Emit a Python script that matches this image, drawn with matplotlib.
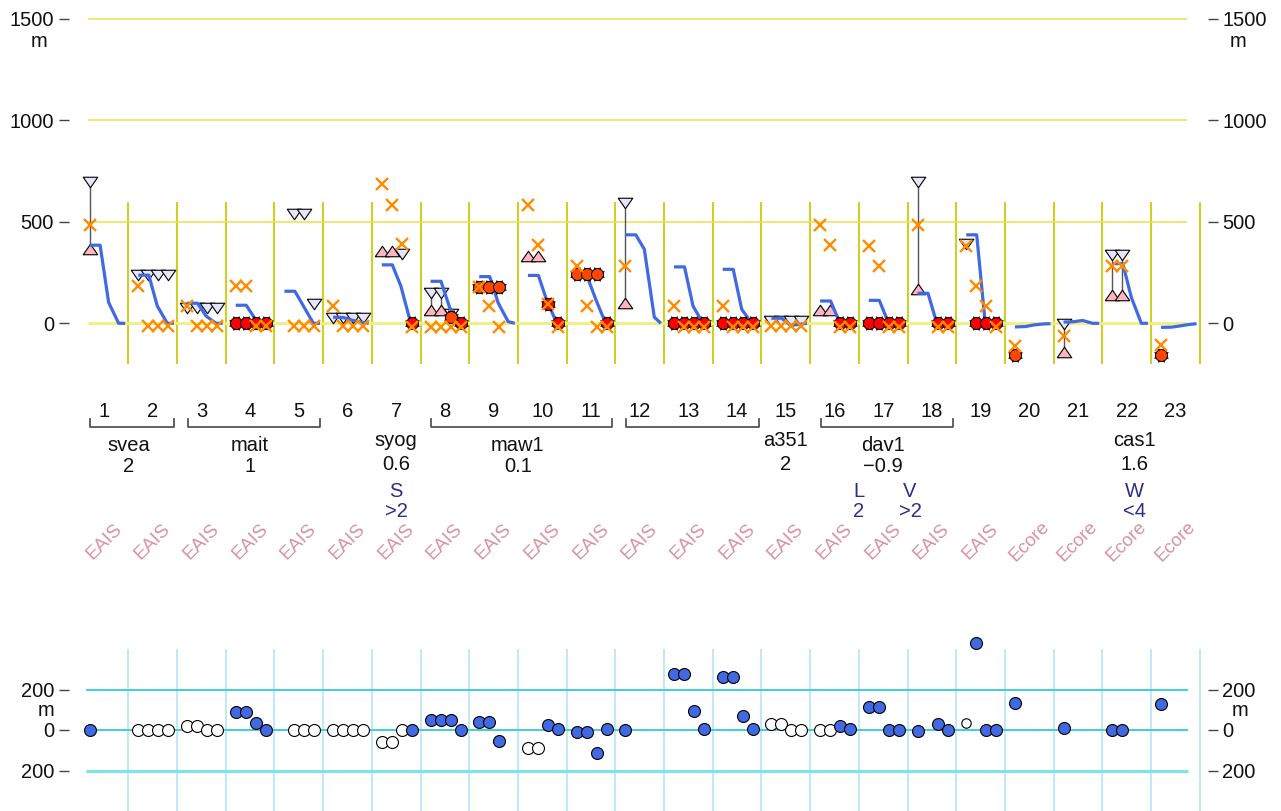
import numpy as np
import matplotlib
matplotlib.use("Agg")
import matplotlib.pyplot as plt
from matplotlib.transforms import blended_transform_factory, ScaledTranslation

plt.rcParams['font.family'] = ['Liberation Sans', 'DejaVu Sans']

N = None
# ---------------- data ----------------
columns = list(range(1, 24))
regions = ["EAIS"] * 19 + ["Ecore"] * 4

# blue profile line, 5 points per column (m)
blue_profile = [
    [385, 385, 103, 0, 0], [237, 237, 85, 0, 0], [99, 99, 36, 0, 0],
    [89, 89, 25, 0, 0], [158, 158, 85, 0, 0], [30, 28, 15, 5, 0],
    [288, 288, 184, 0, 0], [207, 207, 79, 0, 0], [230, 230, 100, 8, 0],
    [236, 236, 110, 0, 0], [232, 232, 120, 0, 0], [436, 436, 365, 30, 0],
    [278, 278, 85, 0, 0], [266, 266, 69, 0, 0], [25, 25, -10, -5, 0],
    [110, 110, 10, 0, 0], [113, 113, 10, 0, 0], [148, 148, 5, 0, 0],
    [436, 436, 0, 0, 0], [-18, -16, -8, -3, -2], [6, 8, 14, 0, 0],
    [294, 294, 128, 0, 0], [-20, -19, -13, -5, -2],
]

# upper limits (down triangles), 4 slots per column
upper = [
    [695, N, N, N], [240, 240, 240, 240], [75, 75, 75, 75], [N, N, N, N],
    [N, 540, 540, 94], [25, 25, 25, 25], [N, N, 342, N], [150, 150, 45, N],
    [N, N, N, N], [N, N, N, N], [N, N, N, N], [595, N, N, N],
    [N, N, N, N], [N, N, N, N], [10, 10, 10, 10], [N, N, N, N],
    [N, N, N, N], [694, N, N, N], [390, N, N, N], [N, N, N, N],
    [-5, N, N, N], [337, 337, N, N], [N, N, N, N],
]

# lower limits (up triangles)
lower = [
    [365, N, N, N], [N, N, N, N], [N, N, N, N], [N, N, N, N],
    [N, N, N, N], [N, N, N, N], [357, 357, N, N], [66, 66, N, N],
    [N, N, N, N], [332, 332, N, N], [N, N, N, N], [102, N, N, N],
    [N, N, N, N], [N, N, N, N], [N, N, N, N], [66, 66, N, N],
    [N, N, N, N], [168, N, N, N], [N, N, N, N], [N, N, N, N],
    [-141, N, N, N], [138, 138, N, N], [N, N, N, N],
]

# estimates (orange crosses)
estimates = [
    [483, N, N, N], [184, -15, -15, -15], [85, -15, -15, -15], [184, 184, -15, -15],
    [N, -15, -15, -15], [85, -15, -15, -15], [686, 584, 390, -20], [-20, -20, -20, -20],
    [179, 86, -20, N], [584, 385, 94, -20], [283, 85, -20, -20], [283, N, N, N],
    [85, -20, -20, -20], [85, -20, -20, -20], [-15, -15, -15, -15], [483, 385, -20, -20],
    [381, 283, -20, -20], [483, N, -20, -20], [380, 184, 85, -20], [-112, N, N, N],
    [-62, N, N, N], [283, 283, N, N], [-108, N, N, N],
]

# observed (red)
observed_red = [
    [N, N, N, N], [N, N, N, N], [N, N, N, N], [0, 0, 0, 0],
    [N, N, N, N], [N, N, N, N], [N, N, N, 0], [N, N, N, 0],
    [N, N, N, N], [N, N, 94, 0], [N, N, N, 0], [N, N, N, N],
    [0, 0, 0, 0], [0, 0, 0, 0], [N, N, N, N], [N, N, 0, 0],
    [0, 0, 0, 0], [N, N, 0, 0], [N, 0, 0, 0], [N, N, N, N],
    [N, N, N, N], [N, N, N, N], [N, N, N, N],
]
# observed (orange-red)
observed_orange = [
    [N, N, N, N], [N, N, N, N], [N, N, N, N], [N, N, N, N],
    [N, N, N, N], [N, N, N, N], [N, N, N, N], [N, N, 30, N],
    [179, 179, 179, N], [N, N, N, N], [242, 242, 242, N], [N, N, N, N],
    [N, N, N, N], [N, N, N, N], [N, N, N, N], [N, N, N, N],
    [N, N, N, N], [N, N, N, N], [N, N, N, N], [-158, N, N, N],
    [N, N, N, N], [N, N, N, N], [-158, N, N, N],
]

# lower panel residuals
resid_filled = [
    [0, N, N, N], [N, N, N, N], [N, N, N, N], [91, 91, 36, 0],
    [N, N, N, N], [N, N, N, N], [N, N, N, 0], [50, 50, 50, 0],
    [39, 39, -52, N], [N, N, 26, 5], [-11, -11, -114, 6], [0, N, N, N],
    [276, 276, 93, 5], [263, 263, 70, 5], [N, N, N, N], [N, N, 21, 3],
    [115, 115, 0, 0], [-5, N, 28, 0], [N, 431, 0, 0], [135, N, N, N],
    [11, N, N, N], [0, 0, N, N], [128, N, N, N],
]
resid_open = [
    [N, N, N, N], [0, 0, 0, 0], [18, 18, 0, 0], [N, N, N, N],
    [N, 0, 0, 0], [0, 0, 0, 0], [-60, -60, 0, N], [N, N, N, N],
    [N, N, N, N], [-88, -88, N, N], [N, N, N, N], [N, N, N, N],
    [N, N, N, N], [N, N, N, N], [29, 29, 0, 0], [0, 0, N, N],
    [N, N, N, N], [N, N, N, N], [N, N, N, N], [N, N, N, N],
    [N, N, N, N], [N, N, N, N], [N, N, N, N],
]
resid_open_small = [
    [N, N, N, N]] * 18 + [[37, N, N, N]] + [[N, N, N, N]] * 4

# groups: name, value, first column, last column, bracket
group_names = ["svea", "mait", "syog", "maw1", "", "a351", "dav1", "cas1"]
group_values = ["2", "1", "0.6", "0.1", "", "2", "\u22120.9", "1.6"]
group_first = [1, 3, 7, 8, 12, 15, 16, 22]
group_last = [2, 5, 7, 11, 14, 15, 18, 22]
group_bracket = [True, True, False, True, True, False, True, False]

note_letters = ["S", "L", "V", "W"]
note_values = [">2", "2", ">2", "<4"]
note_columns = [7, 16, 17, 22]

top_ticks = [0, 500, 1000, 1500]
bottom_ticks = [200, 0, -200]
bottom_tick_labels = ["200", "0", "200"]

# ---------------- layout ----------------
W, H = 1281, 812
fig = plt.figure(figsize=(W / 100, H / 100), dpi=100)


def px_rect(l, t, r, b):
    return [l / W, 1 - b / H, (r - l) / W, (b - t) / H]


x0 = 1 - 35 / 48.7
x1 = 1 + 1104 / 48.7
slots = np.array([-0.295, -0.09, 0.116, 0.321])
blue_off = np.array([-0.295, -0.08, 0.095, 0.30, 0.435])
note_shift = {7: 0.0, 16: 0.5, 17: 0.55, 22: 0.15}
group_shift = {"cas1": 0.15}

ax = fig.add_axes(px_rect(69, 10, 1208, 370))
ax.set_xlim(x0, x1)
ax.set_ylim((324.3 - 370) / 0.2029, (324.3 - 10) / 0.2029)
ax2 = fig.add_axes(px_rect(69, 630, 1208, 812))
ax2.set_xlim(x0, x1)
ax2.set_ylim((731 - 812) / 0.2025, (731 - 630) / 0.2025)

for a in (ax, ax2):
    for s in a.spines.values():
        s.set_visible(False)
    a.set_xticks([])
    a.tick_params(axis='y', left=True, right=True, labelleft=False, labelright=False,
                  direction='out', length=7, width=1.0, color='#444')
    a.patch.set_alpha(0)


def slot_xy(vals):
    xs, ys = [], []
    for c, row in zip(columns, vals):
        for j, v in enumerate(row):
            if v is not None:
                xs.append(c + slots[j])
                ys.append(v)
    return np.array(xs), np.array(ys)


# ---- top panel ----
seps = np.arange(1.5, 24, 1.0)
ax.vlines(seps, -200, 600, color='#CFCF2A', lw=1.5, zorder=1)
ax.hlines([500, 1000, 1500], 0.67, 23.24, color='#E4E44C', lw=1.1, zorder=1)
ax.hlines([0], 0.67, 23.24, color='#F0F07C', lw=2.0, zorder=1)

# connecting lines between limits
for c, up, lo in zip(columns, upper, lower):
    for j in range(4):
        if up[j] is not None and lo[j] is not None:
            ax.plot([c + slots[j]] * 2, [lo[j], up[j]], color='#555555', lw=1.0, zorder=2)

tri_dn = [(-1, 0.72), (1, 0.72), (0, -0.72), (-1, 0.72)]
tri_up = [(-1, -0.72), (1, -0.72), (0, 0.72), (-1, -0.72)]
xs, ys = slot_xy(upper)
ax.plot(xs, ys, ls='none', marker=tri_dn, ms=10.5, mfc='#E6E6FA', mec='black', mew=0.8, zorder=3)
xs, ys = slot_xy(lower)
ax.plot(xs, ys, ls='none', marker=tri_up, ms=10.5, mfc='#FFB6C1', mec='black', mew=0.8, zorder=3)

for c, prof in zip(columns, blue_profile):
    ax.plot(c + blue_off, prof, color='#4169E1', lw=2.3, zorder=4, solid_capstyle='butt')

for vals, col in ((observed_red, '#FF0000'), (observed_orange, '#FF4500')):
    xs, ys = slot_xy(vals)
    ax.plot(xs, ys, ls='none', marker=(8, 1, 22.5), ms=10.8, mfc='black', mec='black', mew=0.5, zorder=5)
    ax.plot(xs, ys, ls='none', marker='o', ms=8.6, mfc=col, mec='black', mew=0.7, zorder=5)

xs, ys = slot_xy(estimates)
ax.plot(xs, ys, ls='none', marker='x', ms=9.2, mec='#FF8C00', mew=1.7, zorder=6)

# ---- tick labels ----
ax.set_yticks(top_ticks)
ax2.set_yticks(bottom_ticks)
off = ScaledTranslation(0, -6.5 / 100, fig.dpi_scale_trans)
for a, ticks, labels in ((ax, top_ticks, [str(t) for t in top_ticks]),
                         (ax2, bottom_ticks, bottom_tick_labels)):
    tr = a.get_yaxis_transform() + off
    for t, lab in zip(ticks, labels):
        a.text((54 - 69) / (1208 - 69), t, lab, transform=tr, ha='right', va='baseline',
               fontsize=14.5, color='#111')
        a.text((1222 - 69) / (1208 - 69), t, lab, transform=tr, ha='left', va='baseline',
               fontsize=14.5, color='#111')

fig.text(39 / W, 1 - 47 / H, "m", ha='center', va='baseline', fontsize=14.5, color='#111')
fig.text(1238 / W, 1 - 47 / H, "m", ha='center', va='baseline', fontsize=14.5, color='#111')
fig.text(46 / W, 1 - 716 / H, "m", ha='center', va='baseline', fontsize=14.5, color='#111')
fig.text(1240 / W, 1 - 716 / H, "m", ha='center', va='baseline', fontsize=14.5, color='#111')

# ---- labels between panels ----
T = blended_transform_factory(ax.transData, fig.transFigure)


def fy(py):
    return 1 - py / H


for c in columns:
    ax.text(c, fy(417), str(c), transform=T, ha='center', va='baseline', fontsize=14.5,
            color='#111', clip_on=False)

for c, r in zip(columns, regions):
    ax.text(c, fy(542), r, transform=T, ha='center', va='center', rotation=45,
            rotation_mode='anchor', fontsize=13.5, color='#D6929F', clip_on=False)

for name, val, a0, a1, br in zip(group_names, group_values, group_first, group_last, group_bracket):
    if br:
        xa, xb = a0 - 0.28, a1 + 0.44
        ax.plot([xa, xa, xb, xb], [fy(420), fy(428), fy(428), fy(420)], transform=T,
                color='#555555', lw=1.3, clip_on=False)
    xc = (a0 + a1) / 2 + group_shift.get(name, 0)
    if name:
        yb_name = 451 if br else 446
        yb_val = 472 if br else 470
        ax.text(xc, fy(yb_name), name, transform=T, ha='center', va='baseline',
                fontsize=14.5, color='#111', clip_on=False)
        ax.text(xc, fy(yb_val), val, transform=T, ha='center', va='baseline',
                fontsize=14.5, color='#111', clip_on=False)

for let, val, c in zip(note_letters, note_values, note_columns):
    xc = c + note_shift.get(c, 0)
    ax.text(xc, fy(497), let, transform=T, ha='center', va='baseline', fontsize=14.5,
            color='#2E2E86', clip_on=False)
    ax.text(xc, fy(517), val, transform=T, ha='center', va='baseline', fontsize=14.5,
            color='#2E2E86', clip_on=False)

# ---- bottom panel ----
ax2.vlines(seps, -400, 400, color='#BDE5FA', lw=1.3, zorder=1)
ax2.hlines([200, 0], 0.63, 23.26, color='#3DD0D8', lw=1.4, zorder=1)
ax2.hlines([-200], 0.63, 23.26, color='#7EE2E8', lw=2.2, zorder=1)

xs, ys = slot_xy(resid_open)
ax2.plot(xs, ys, ls='none', marker='o', ms=8.6, mfc='white', mec='black', mew=0.8, zorder=3)
xs, ys = slot_xy(resid_open_small)
ax2.plot(xs, ys, ls='none', marker='o', ms=6.8, mfc='white', mec='black', mew=0.8, zorder=3)
xs, ys = slot_xy(resid_filled)
ax2.plot(xs, ys, ls='none', marker='o', ms=8.6, mfc='#4169E1', mec='black', mew=0.8, zorder=3,
         clip_on=False)

fig.savefig("out.png", dpi=100)
